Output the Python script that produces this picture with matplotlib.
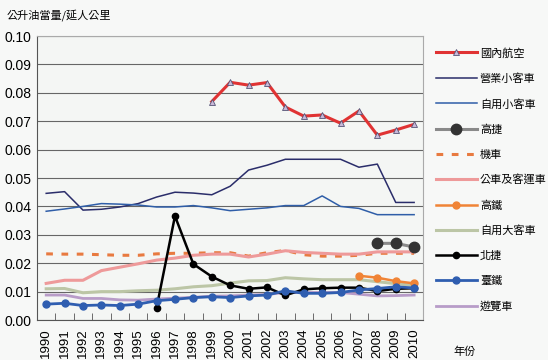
import matplotlib
matplotlib.use("Agg")
import matplotlib.pyplot as plt
import numpy as np

plt.rcParams['font.family'] = ['Liberation Sans', 'Noto Sans CJK TC', 'DejaVu Sans']

years = list(range(1990, 2011))
nan = np.nan

# 公升油當量/延人公里
aviation = [nan]*9 + [0.0769, 0.0837, 0.0827, 0.0836, 0.0750, 0.0718, 0.0722, 0.0693, 0.0736, 0.0651, 0.0669, 0.0689]
taxi = [0.0446, 0.0452, 0.0387, 0.0390, 0.0398, 0.0410, 0.0433, 0.0450, 0.0447, 0.0441, 0.0471, 0.0528, 0.0545, 0.0566, 0.0566, 0.0566, 0.0566, 0.0538, 0.0549, 0.0414, 0.0414]
private_car = [0.0383, 0.0391, 0.0400, 0.0410, 0.0408, 0.0405, 0.0398, 0.0398, 0.0403, 0.0395, 0.0385, 0.0390, 0.0395, 0.0403, 0.0403, 0.0437, 0.0400, 0.0393, 0.0371, 0.0371, 0.0371]
kmrt = [nan]*18 + [0.0270, 0.0270, 0.0257]
motorcycle = [0.0233, 0.0232, 0.0232, 0.0230, 0.0228, 0.0228, 0.0233, 0.0235, 0.0235, 0.0237, 0.0237, 0.0225, 0.0237, 0.0245, 0.0230, 0.0225, 0.0225, 0.0228, 0.0235, 0.0235, 0.0235]
bus = [0.0129, 0.0140, 0.0140, 0.0174, 0.0186, 0.0198, 0.0211, 0.0218, 0.0228, 0.0232, 0.0232, 0.0222, 0.0232, 0.0244, 0.0238, 0.0235, 0.0232, 0.0232, 0.0240, 0.0240, 0.0240]
hsr = [nan]*17 + [0.0156, 0.0149, 0.0137, 0.0129]
private_bus = [0.0110, 0.0111, 0.0096, 0.0100, 0.0100, 0.0103, 0.0105, 0.0110, 0.0117, 0.0121, 0.0130, 0.0138, 0.0139, 0.0149, 0.0145, 0.0142, 0.0142, 0.0142, 0.0135, 0.0128, 0.0122]
trtc = [nan]*6 + [0.0043, 0.0366, 0.0197, 0.0153, 0.0122, 0.0110, 0.0115, 0.0087, 0.0108, 0.0112, 0.0114, 0.0114, 0.0102, 0.0110, 0.0112]
tra = [0.0056, 0.0059, 0.0051, 0.0053, 0.0051, 0.0056, 0.0068, 0.0073, 0.0079, 0.0082, 0.0079, 0.0085, 0.0088, 0.0103, 0.0094, 0.0094, 0.0097, 0.0106, 0.0111, 0.0117, 0.0113]
tour_bus = [0.0088, 0.0088, 0.0076, 0.0076, 0.0071, 0.0070, 0.0074, 0.0077, 0.0080, 0.0084, 0.0085, 0.0088, 0.0090, 0.0097, 0.0097, 0.0097, 0.0097, 0.0091, 0.0085, 0.0086, 0.0088]

fig = plt.figure(figsize=(5.48, 3.6), dpi=100, facecolor='#f7f8f7')
ax = fig.add_axes([0.0675, 0.111, 0.705, 0.789])
ax.set_facecolor('#f4f6f4')
x = np.arange(len(years))

ax.plot(x, aviation, color='#e03333', lw=2.2, marker='^', ms=5, mfc='#c8b8d8', mec='#555577', mew=0.6, label='國內航空', zorder=5)
ax.plot(x, taxi, color='#2a2d6a', lw=1.1, label='營業小客車')
ax.plot(x, private_car, color='#2f5ea8', lw=1.1, label='自用小客車')
ax.plot(x, kmrt, color='#8a8a8a', lw=2.2, marker='o', ms=7.5, mfc='#333333', mec='#333333', label='高捷', zorder=4)
ax.plot(x, motorcycle, color='#e87a40', lw=2.2, ls=(0, (2.2, 2.8)), label='機車')
ax.plot(x, bus, color='#ee9a9a', lw=2.2, label='公車及客運車')
ax.plot(x, hsr, color='#f08436', lw=1.8, marker='o', ms=5, mfc='#f08436', mec='#f08436', label='高鐵', zorder=4)
ax.plot(x, private_bus, color='#bcc6a6', lw=2.2, label='自用大客車')
ax.plot(x, trtc, color='#000000', lw=1.8, marker='o', ms=4.5, label='北捷', zorder=4)
ax.plot(x, tra, color='#2f5eb0', lw=2.0, marker='o', ms=5, label='臺鐵', zorder=4)
ax.plot(x, tour_bus, color='#b89cc8', lw=2.0, label='遊覽車')

ax.set_xlim(-0.5, len(years) - 0.5)
ax.set_ylim(0, 0.10)
ax.set_yticks(np.arange(0, 0.101, 0.01))
ax.set_yticklabels([f'{v:.2f}' for v in np.arange(0, 0.101, 0.01)], fontsize=10)
ax.set_xticks(x)
ax.set_xticklabels([str(y) for y in years], rotation=90, fontsize=9.5)
ax.set_xticks(np.arange(-0.5, len(years), 1), minor=True)
ax.tick_params(axis='x', which='major', length=0, pad=6)
ax.tick_params(axis='x', which='minor', length=5, direction='in', color='#555555')
ax.tick_params(axis='y', length=0, pad=4)
ax.grid(axis='y', color='#666666', lw=0.8)
ax.set_axisbelow(True)
for s in ['top', 'right']:
    ax.spines[s].set_color('#aaaaaa')
for s in ['left', 'bottom']:
    ax.spines[s].set_color('#555555')

leg = ax.legend(loc='upper left', bbox_to_anchor=(1.02, 0.975), frameon=False,
                fontsize=8, handlelength=3.7, labelspacing=1.33, handletextpad=0.3,
                borderaxespad=0, numpoints=1)

fig.text(0.012, 0.958, '公升油當量/延人公里', fontsize=8, family=['Noto Sans CJK TC'], va='center')
fig.text(0.828, 0.022, '年份', fontsize=8, family=['Noto Sans CJK TC'], va='center')

fig.savefig('out.png', dpi=100, facecolor=fig.get_facecolor())
